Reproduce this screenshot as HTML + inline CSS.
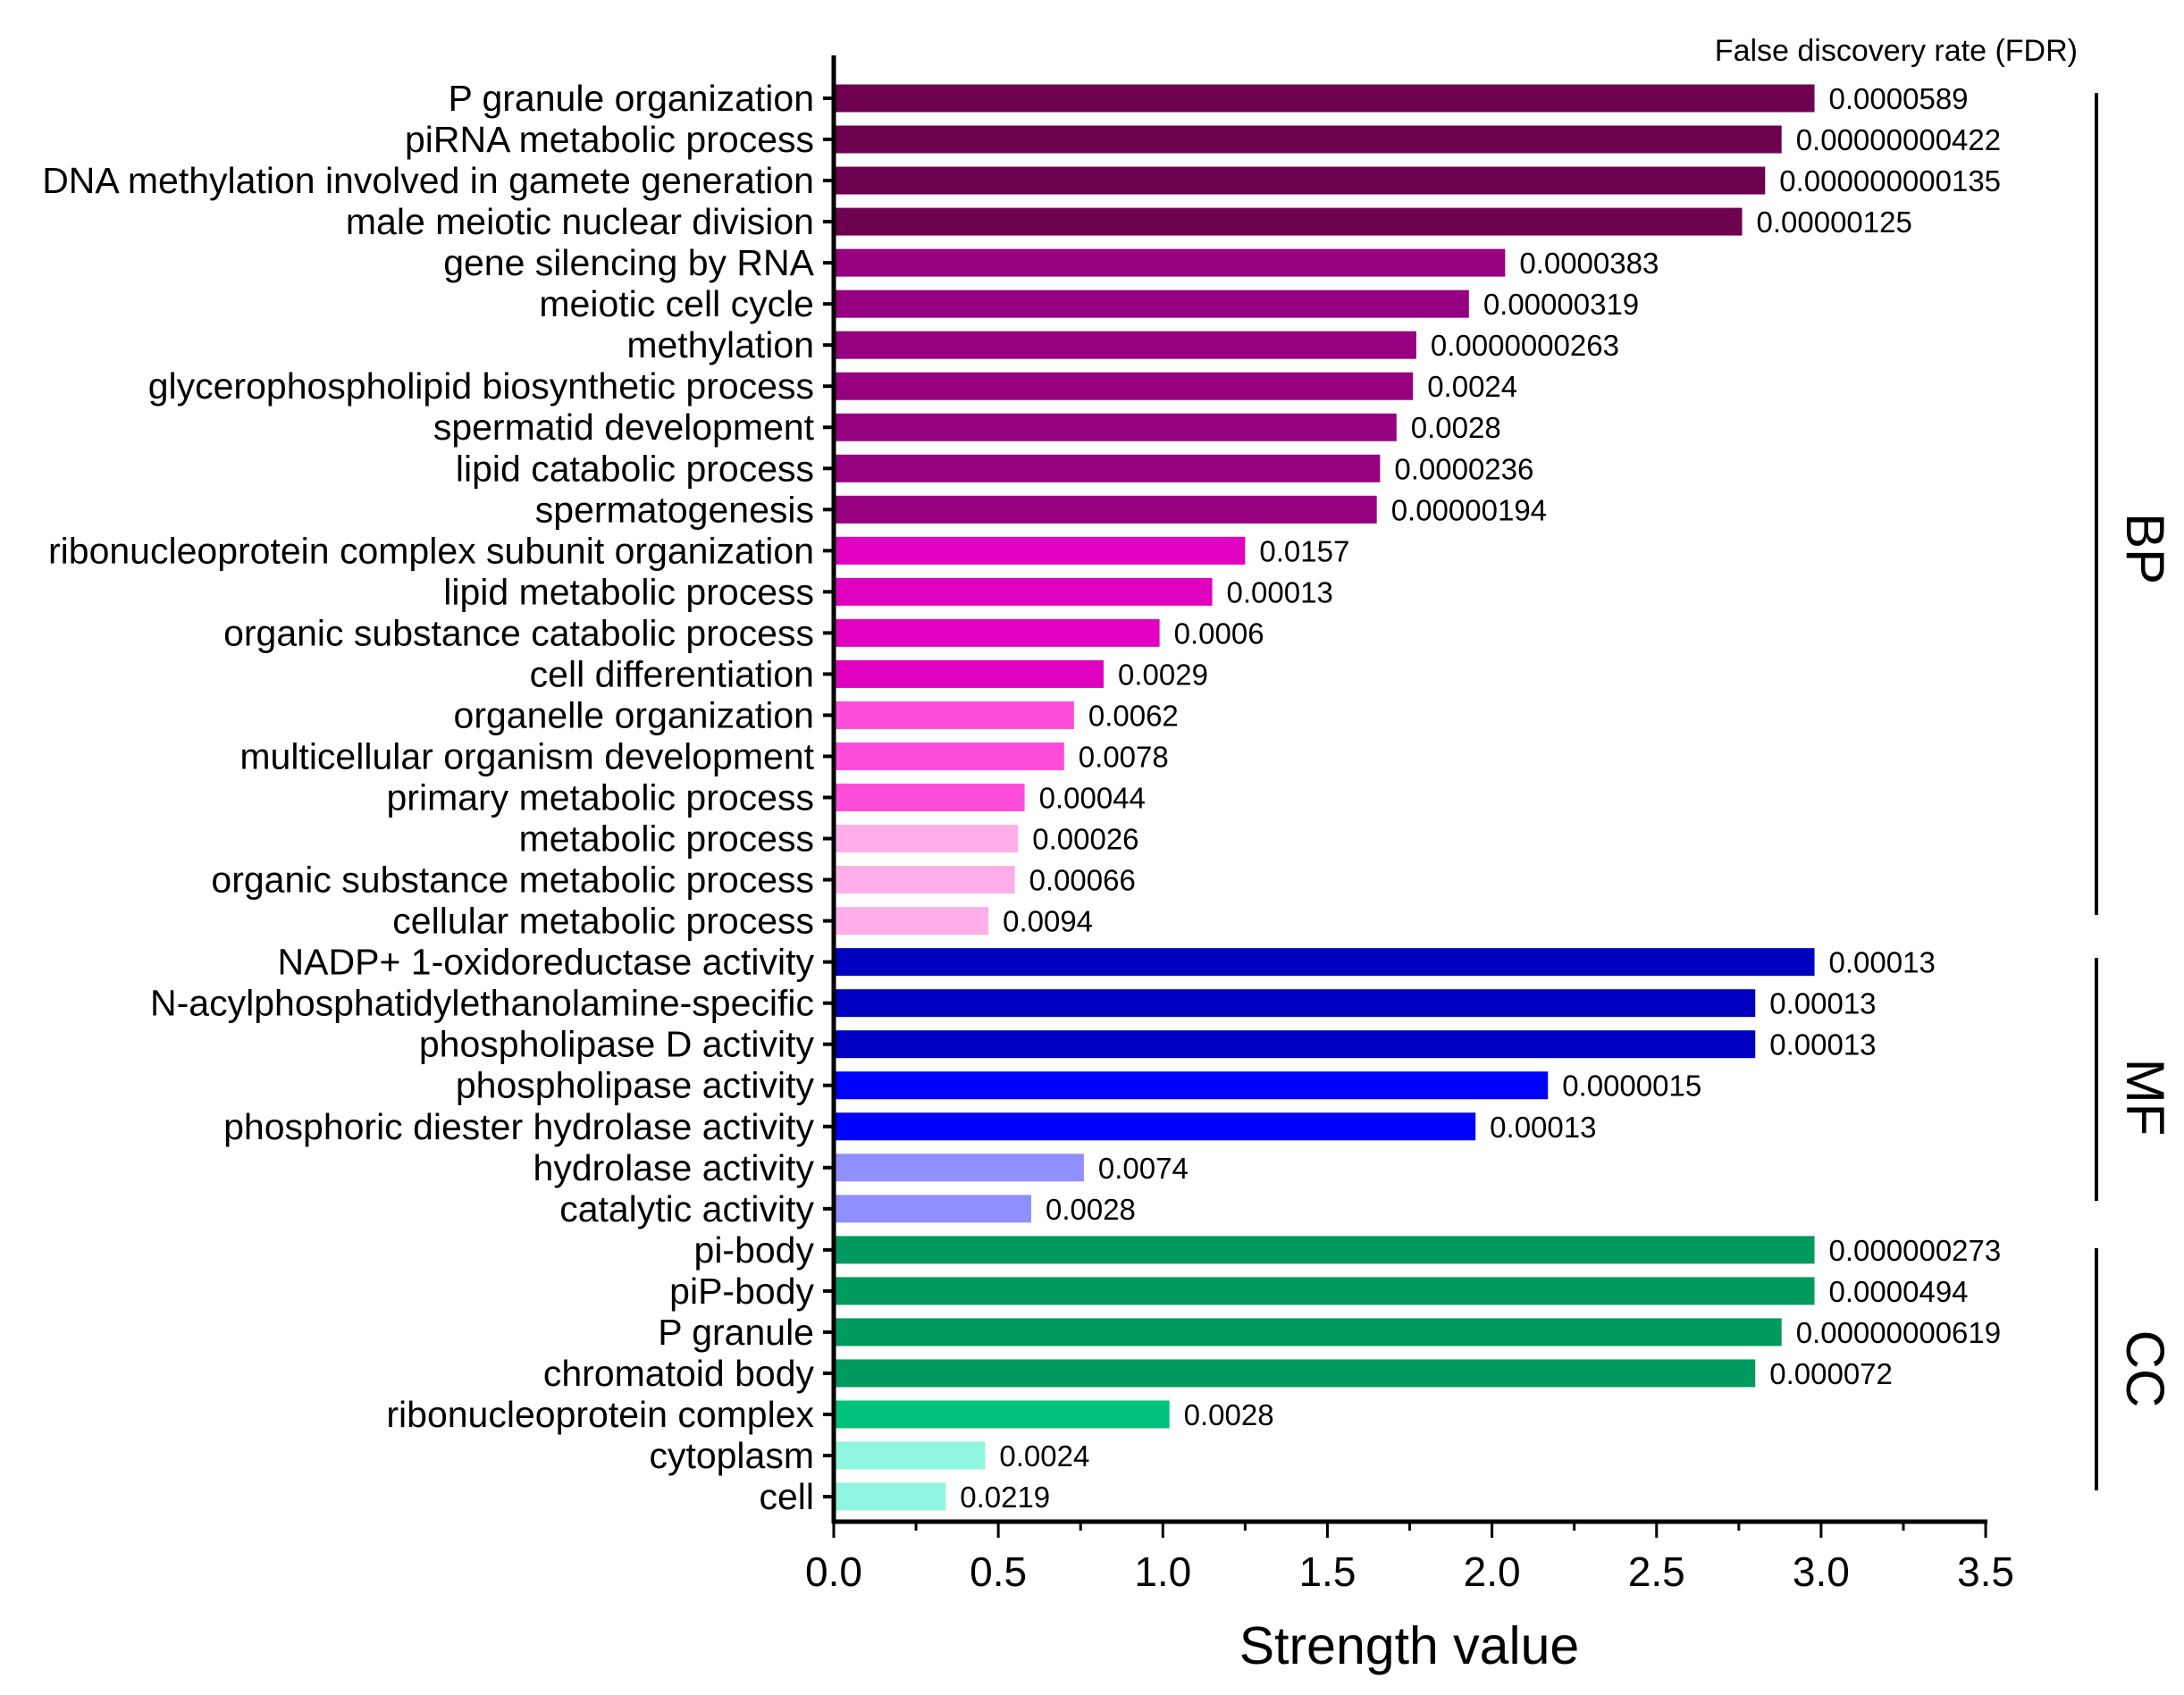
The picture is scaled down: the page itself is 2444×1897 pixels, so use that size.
<!DOCTYPE html>
<html><head><meta charset="utf-8"><style>
html,body{margin:0;padding:0;background:#fff}
svg{display:block;font-family:"Liberation Sans",Arial,sans-serif}
</style></head><body>
<svg id="chart" width="2444" height="1897" viewBox="0 0 2444 1897" xmlns="http://www.w3.org/2000/svg">
<rect width="2444" height="1897" fill="#fff"/>
<g id="bars"></g>
<g id="axes"></g>
<text x="2325" y="68" font-size="34" text-anchor="end">False discovery rate (FDR)</text>
<text x="1577" y="1862" font-size="59" text-anchor="middle">Strength value</text>
<line x1="2346" y1="104" x2="2346" y2="1024" stroke="#000" stroke-width="4"/>
<line x1="2346" y1="1072" x2="2346" y2="1344" stroke="#000" stroke-width="4"/>
<line x1="2346" y1="1397" x2="2346" y2="1668" stroke="#000" stroke-width="4"/>
<text transform="translate(2380,614) rotate(90)" font-size="60" text-anchor="middle">BP</text>
<text transform="translate(2380,1228) rotate(90)" font-size="60" text-anchor="middle">MF</text>
<text transform="translate(2380,1532) rotate(90)" font-size="60" text-anchor="middle">CC</text>
</svg>
<script>
const categories = ["P granule organization","piRNA metabolic process","DNA methylation involved in gamete generation","male meiotic nuclear division","gene silencing by RNA","meiotic cell cycle","methylation","glycerophospholipid biosynthetic process","spermatid development","lipid catabolic process","spermatogenesis","ribonucleoprotein complex subunit organization","lipid metabolic process","organic substance catabolic process","cell differentiation","organelle organization","multicellular organism development","primary metabolic process","metabolic process","organic substance metabolic process","cellular metabolic process","NADP+ 1-oxidoreductase activity","N-acylphosphatidylethanolamine-specific","phospholipase D activity","phospholipase activity","phosphoric diester hydrolase activity","hydrolase activity","catalytic activity","pi-body","piP-body","P granule","chromatoid body","ribonucleoprotein complex","cytoplasm","cell"];
const strength = [2.98,2.88,2.83,2.76,2.04,1.93,1.77,1.76,1.71,1.66,1.65,1.25,1.15,0.99,0.82,0.73,0.70,0.58,0.56,0.55,0.47,2.98,2.80,2.80,2.17,1.95,0.76,0.60,2.98,2.98,2.88,2.80,1.02,0.46,0.34];
const fdrLabels = ["0.0000589","0.00000000422","0.000000000135","0.00000125","0.0000383","0.00000319","0.0000000263","0.0024","0.0028","0.0000236","0.00000194","0.0157","0.00013","0.0006","0.0029","0.0062","0.0078","0.00044","0.00026","0.00066","0.0094","0.00013","0.00013","0.00013","0.0000015","0.00013","0.0074","0.0028","0.000000273","0.0000494","0.00000000619","0.000072","0.0028","0.0024","0.0219"];
const colorGroups = [0,0,0,0,1,1,1,1,1,1,1,2,2,2,2,3,3,3,4,4,4,5,5,5,6,6,7,7,8,8,8,8,9,10,10];
const xTicks = [0,0.5,1,1.5,2,2.5,3,3.5];
const xTickLabels = ["0.0","0.5","1.0","1.5","2.0","2.5","3.0","3.5"];
const palette = ["#6e0050","#960080","#e000c0","#ff4ddb","#ffaeea","#0000c0","#0000ff","#8f8fff","#00995e","#00c27a","#90f5df"];

const NS="http://www.w3.org/2000/svg";
const X0=933, PXU=368.3, Y0=110, PITCH=46.03, BH=31, BASE=1703, TOP=62;
const xs=v=>X0+v*PXU;
const ys=i=>Y0+i*PITCH;
function mk(tag,attrs,parent){const e=document.createElementNS(NS,tag);for(const k in attrs)e.setAttribute(k,attrs[k]);parent.appendChild(e);return e;}
const bars=document.getElementById('bars'), axes=document.getElementById('axes');
categories.forEach((c,i)=>{
  const y=ys(i);
  const r=mk('rect',{x:X0,y:y-BH/2,width:xs(strength[i])-X0,height:BH,fill:palette[colorGroups[i]]},bars);
  
  
  const t=mk('text',{x:X0-22,y:y+14,'font-size':41,'text-anchor':'end'},bars);
  t.textContent=c;
  
  
  const v=mk('text',{x:xs(strength[i])+16,y:y+12,'font-size':33},bars);
  v.textContent=fdrLabels[i];
  
  
  const tk=mk('line',{x1:X0-12,x2:X0,y1:y,y2:y,stroke:'#000','stroke-width':4},axes);
  
  
});
const ya=mk('line',{x1:X0,x2:X0,y1:TOP,y2:BASE+2,stroke:'#000','stroke-width':5},axes);


const xa=mk('line',{x1:X0-2,x2:xs(3.5)+2,y1:BASE,y2:BASE,stroke:'#000','stroke-width':5},axes);


for(let m=0;m<=14;m++){
  const v=m*0.25;
  const mt=mk('line',{x1:xs(v),x2:xs(v),y1:BASE,y2:BASE+(m%2?10:18),stroke:'#000','stroke-width':3},axes);
  
  
}
xTicks.forEach((v,i)=>{
  const t=mk('text',{x:xs(v),y:BASE+72,'font-size':46,'text-anchor':'middle'},axes);
  t.textContent=xTickLabels[i];
  
  
});
</script>
</body></html>
